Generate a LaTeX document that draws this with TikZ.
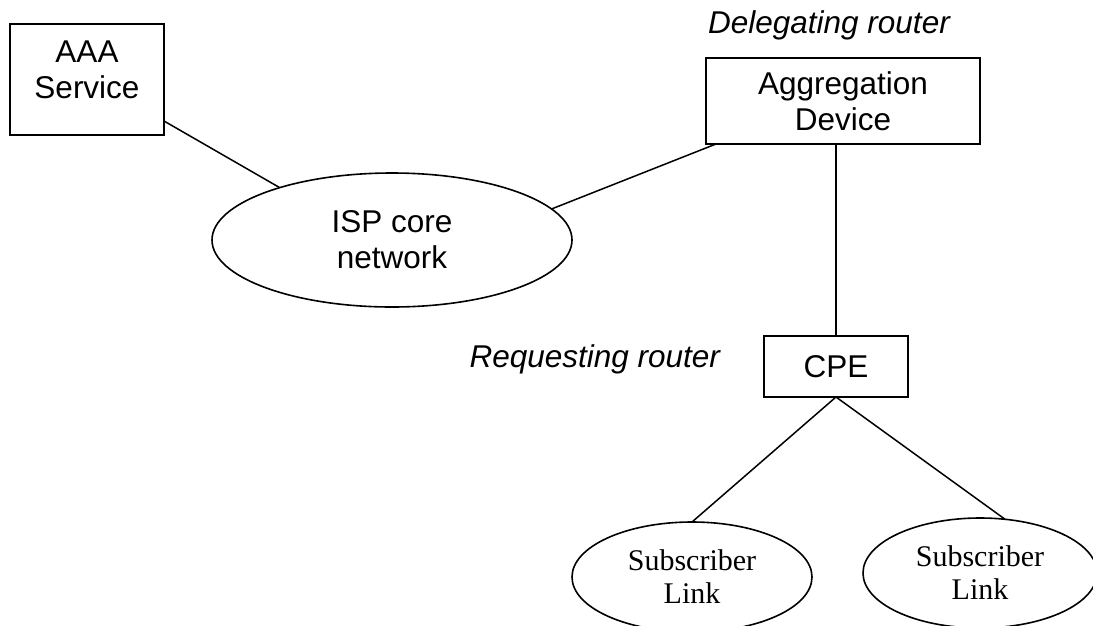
\documentclass[tikz,border=0pt]{standalone}
\usepackage{fontspec}
\setmainfont{Liberation Sans}
\newfontfamily\serifface{Liberation Serif}
\usetikzlibrary{shapes.geometric,calc}
\begin{document}
\begin{tikzpicture}[x=1pt,y=-1pt,
  every node/.style={inner sep=0pt, outer sep=0pt},
  lbl/.style={font=\fontsize{31.5}{36}\selectfont, align=center},
  role/.style={font=\fontsize{31.5}{36}\selectfont\itshape},
  box/.style={draw, line width=1.6pt, rectangle},
  oval/.style={draw, line width=1.6pt, ellipse},
  sublbl/.style={font=\serifface\fontsize{30}{33}\selectfont, align=center},
  wire/.style={line width=1.5pt}]
\useasboundingbox (0,0) rectangle (1093,625);

% boxes
\node[box, minimum width=154pt, minimum height=111pt] (aaa) at (87,79.5) {};
\node[lbl] (aaatext) at (87,70) {AAA\\Service};
\node[box, minimum width=274pt, minimum height=86pt, lbl] (agg) at (843,101) {Aggregation\\Device};
\node[box, minimum width=144pt, minimum height=61pt, lbl] (cpe) at (836,366.5) {CPE};

% ellipses
\node[oval, minimum width=360pt, minimum height=134pt, lbl] (isp) at (392,240) {ISP core\\network};
\node[oval, minimum width=240pt, minimum height=110pt, sublbl] (sub1) at (692,577) {Subscriber\\Link};
\node[oval, minimum width=234pt, minimum height=110pt, sublbl] (sub2) at (980,573) {Subscriber\\Link};

% role labels
\node[role] (deleg) at (829,25) {Delegating router};
\node[role, anchor=east] (req) at (720,359) {Requesting router};

% links
\draw[wire] ($(aaa.south east)+(0,-14)$) -- (isp.155);
\draw[wire] ($(agg.south west)+(10,0)$) -- (isp.11);
\draw[wire] (cpe.north |- agg.south) -- (cpe.north);
\draw[wire] (cpe.south) -- (sub1.north);
\draw[wire] (cpe.south) -- (sub2.65);
\end{tikzpicture}
\end{document}
